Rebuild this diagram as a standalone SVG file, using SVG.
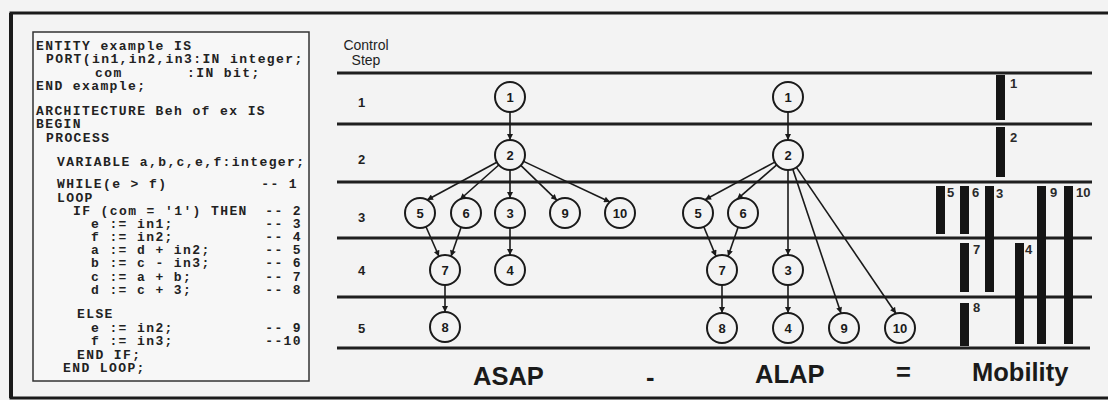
<svg xmlns="http://www.w3.org/2000/svg" width="1108" height="400" viewBox="0 0 1108 400">
  <defs>
    <marker id="arr" viewBox="0 0 10 10" refX="10" refY="5" markerWidth="7" markerHeight="6" markerUnits="userSpaceOnUse" orient="auto">
      <path d="M0,0 L10,5 L0,10 z" fill="#1a1a1a"/>
    </marker>
    <style>
      .code { font-family: "Liberation Mono", "Courier New", monospace; font-weight: bold; font-size: 13px; letter-spacing: 1.4px; fill: #222; }
      .cmt { text-anchor: end; }
      .step { stroke: #1f1f1f; stroke-width: 3; }
      .lbl { font-family: "Liberation Sans", Arial, sans-serif; font-weight: bold; fill: #1f1f1f; }
      .hdr { font-family: "Liberation Sans", Arial, sans-serif; font-size: 14px; fill: #1f1f1f; text-anchor: middle; }
      .node circle { fill: none; stroke: #1a1a1a; stroke-width: 2; }
      .node text { font-family: "Liberation Sans", Arial, sans-serif; font-weight: bold; font-size: 13px; fill: #1a1a1a; text-anchor: middle; }
      .edge { stroke: #1a1a1a; stroke-width: 1.6; fill: none; marker-end: url(#arr); }
      .bar { fill: #151515; }
      .blbl { font-family: "Liberation Sans", Arial, sans-serif; font-weight: bold; font-size: 13px; fill: #2a2a2a; }
      .big { font-family: "Liberation Sans", Arial, sans-serif; font-weight: bold; font-size: 25.5px; fill: #1a1a1a; }
    </style>
  </defs>

  <!-- page background and outer frame -->
  <rect x="0" y="0" width="1108" height="400" fill="#f3f3f3"/>
  <path d="M1108,13 H11 V398 H1108" fill="none" stroke="#1a1a1a" stroke-width="3"/>
  <line x1="11" y1="13" x2="11" y2="398" stroke="#1a1a1a" stroke-width="4"/>

  <!-- VHDL source listing -->
  <g id="code">
    <rect x="33" y="32" width="276" height="349" fill="#f7f7f7" stroke="#333" stroke-width="1.5"/>
    <text class="code" x="36" y="50">ENTITY example IS</text>
    <text class="code" x="46" y="63">PORT(in1,in2,in3:IN integer;</text>
    <text class="code" x="95" y="76.5">com</text>
    <text class="code" x="187" y="76.5">:IN bit;</text>
    <text class="code" x="36" y="89.5">END example;</text>
    <text class="code" x="36" y="115">ARCHITECTURE Beh of ex IS</text>
    <text class="code" x="36" y="128">BEGIN</text>
    <text class="code" x="46" y="142">PROCESS</text>
    <text class="code" x="57" y="166">VARIABLE a,b,c,e,f:integer;</text>
    <text class="code" x="57" y="188">WHILE(e &gt; f)</text>
    <text class="code cmt" x="298" y="188">-- 1</text>
    <text class="code" x="57" y="201.5">LOOP</text>
    <text class="code" x="73" y="215">IF (com = '1') THEN</text>
    <text class="code cmt" x="302" y="215">-- 2</text>
    <text class="code" x="91" y="228">e := in1;</text>
    <text class="code cmt" x="302" y="228">-- 3</text>
    <text class="code" x="91" y="241">f := in2;</text>
    <text class="code cmt" x="302" y="241">-- 4</text>
    <text class="code" x="91" y="254">a := d + in2;</text>
    <text class="code cmt" x="302" y="254">-- 5</text>
    <text class="code" x="91" y="267">b := c - in3;</text>
    <text class="code cmt" x="302" y="267">-- 6</text>
    <text class="code" x="91" y="281">c := a + b;</text>
    <text class="code cmt" x="302" y="281">-- 7</text>
    <text class="code" x="91" y="294">d := c + 3;</text>
    <text class="code cmt" x="302" y="294">-- 8</text>
    <text class="code" x="77" y="318">ELSE</text>
    <text class="code" x="91" y="332">e := in2;</text>
    <text class="code cmt" x="302" y="332">-- 9</text>
    <text class="code" x="91" y="345">f := in3;</text>
    <text class="code cmt" x="302" y="345">--10</text>
    <text class="code" x="77" y="359">END IF;</text>
    <text class="code" x="63" y="372">END LOOP;</text>
  </g>

  <!-- control step grid -->
  <g id="steps">
    <text class="hdr" x="366" y="50">Control</text>
    <text class="hdr" x="366" y="65">Step</text>
    <line class="step" x1="337" y1="73" x2="1092" y2="73"/>
    <line class="step" x1="337" y1="124" x2="1092" y2="124"/>
    <line class="step" x1="337" y1="182" x2="1092" y2="182"/>
    <line class="step" x1="337" y1="238" x2="1092" y2="238"/>
    <line class="step" x1="337" y1="297" x2="1092" y2="297"/>
    <line class="step" x1="337" y1="348" x2="1090" y2="348"/>
    <text class="lbl" x="358" y="107" font-size="13">1</text>
    <text class="lbl" x="358" y="164" font-size="13">2</text>
    <text class="lbl" x="358" y="222" font-size="13">3</text>
    <text class="lbl" x="358" y="275" font-size="13">4</text>
    <text class="lbl" x="358" y="333" font-size="13">5</text>
  </g>

  <!-- dependency edges -->
  <g id="connectors">
    <!-- ASAP schedule -->
    <line class="edge" x1="510" y1="112" x2="510" y2="140"/>
    <line class="edge" x1="496.8" y1="162.2" x2="427" y2="200"/>
    <line class="edge" x1="498.8" y1="165" x2="460" y2="199.5"/>
    <line class="edge" x1="510" y1="170" x2="510" y2="198"/>
    <line class="edge" x1="520.8" y1="165.4" x2="557" y2="200.3"/>
    <line class="edge" x1="523.6" y1="161.4" x2="610" y2="202"/>
    <line class="edge" x1="426" y1="226.7" x2="439" y2="256.5"/>
    <line class="edge" x1="461.1" y1="227.2" x2="451" y2="256.5"/>
    <line class="edge" x1="510" y1="228" x2="510" y2="255"/>
    <line class="edge" x1="445" y1="285" x2="445" y2="312"/>
    <!-- ALAP schedule -->
    <line class="edge" x1="788" y1="112" x2="788" y2="140"/>
    <line class="edge" x1="774.8" y1="162.1" x2="705" y2="199.7"/>
    <line class="edge" x1="776.7" y1="164.8" x2="737" y2="199.3"/>
    <line class="edge" x1="788" y1="170" x2="788" y2="255"/>
    <line class="edge" x1="792.8" y1="169.2" x2="841" y2="313.3"/>
    <line class="edge" x1="796.4" y1="167.4" x2="896" y2="313.5"/>
    <line class="edge" x1="703.8" y1="226.8" x2="716" y2="256.3"/>
    <line class="edge" x1="738.1" y1="227.2" x2="728" y2="256.3"/>
    <line class="edge" x1="722" y1="285" x2="722" y2="313"/>
    <line class="edge" x1="788" y1="285" x2="788" y2="313"/>
  </g>

  <!-- ASAP operation nodes -->
  <g id="asap-1" class="node"><circle cx="510" cy="97" r="15"/><text x="510" y="101.7">1</text></g>
  <g id="asap-2" class="node"><circle cx="510" cy="155" r="15"/><text x="510" y="159.7">2</text></g>
  <g id="asap-5" class="node"><circle cx="420" cy="213" r="15"/><text x="420" y="217.7">5</text></g>
  <g id="asap-6" class="node"><circle cx="466" cy="213" r="15"/><text x="466" y="217.7">6</text></g>
  <g id="asap-3" class="node"><circle cx="510" cy="213" r="15"/><text x="510" y="217.7">3</text></g>
  <g id="asap-9" class="node"><circle cx="565" cy="213" r="15"/><text x="565" y="217.7">9</text></g>
  <g id="asap-10" class="node"><circle cx="620" cy="213" r="15"/><text x="620" y="217.7">10</text></g>
  <g id="asap-7" class="node"><circle cx="445" cy="270" r="15"/><text x="445" y="274.7">7</text></g>
  <g id="asap-4" class="node"><circle cx="510" cy="270" r="15"/><text x="510" y="274.7">4</text></g>
  <g id="asap-8" class="node"><circle cx="445" cy="327" r="15"/><text x="445" y="331.7">8</text></g>

  <!-- ALAP operation nodes -->
  <g id="alap-1" class="node"><circle cx="788" cy="97" r="15"/><text x="788" y="101.7">1</text></g>
  <g id="alap-2" class="node"><circle cx="788" cy="155" r="15"/><text x="788" y="159.7">2</text></g>
  <g id="alap-5" class="node"><circle cx="698" cy="213" r="15"/><text x="698" y="217.7">5</text></g>
  <g id="alap-6" class="node"><circle cx="743" cy="213" r="15"/><text x="743" y="217.7">6</text></g>
  <g id="alap-7" class="node"><circle cx="722" cy="270" r="15"/><text x="722" y="274.7">7</text></g>
  <g id="alap-3" class="node"><circle cx="788" cy="270" r="15"/><text x="788" y="274.7">3</text></g>
  <g id="alap-8" class="node"><circle cx="722" cy="328" r="15"/><text x="722" y="332.7">8</text></g>
  <g id="alap-4" class="node"><circle cx="788" cy="328" r="15"/><text x="788" y="332.7">4</text></g>
  <g id="alap-9" class="node"><circle cx="844" cy="328" r="15"/><text x="844" y="332.7">9</text></g>
  <g id="alap-10" class="node"><circle cx="900" cy="328" r="15"/><text x="900" y="332.7">10</text></g>

  <!-- mobility ranges -->
  <g id="mobility">
    <rect class="bar" x="996" y="75" width="9" height="45"/>
    <text class="blbl" x="1010" y="88">1</text>
    <rect class="bar" x="996" y="127" width="9" height="50"/>
    <text class="blbl" x="1010" y="142">2</text>
    <rect class="bar" x="936" y="186" width="9" height="48"/>
    <text class="blbl" x="947" y="197">5</text>
    <rect class="bar" x="960" y="186" width="9" height="48"/>
    <text class="blbl" x="972" y="197">6</text>
    <rect class="bar" x="985" y="186" width="9" height="106"/>
    <text class="blbl" x="996" y="198">3</text>
    <rect class="bar" x="1037" y="186" width="9" height="158"/>
    <text class="blbl" x="1050" y="197">9</text>
    <rect class="bar" x="1064" y="186" width="9" height="158"/>
    <text class="blbl" x="1076" y="197">10</text>
    <rect class="bar" x="960" y="243" width="9" height="49"/>
    <text class="blbl" x="973" y="254">7</text>
    <rect class="bar" x="1015" y="243" width="9" height="101"/>
    <text class="blbl" x="1025" y="254">4</text>
    <rect class="bar" x="960" y="303" width="9" height="43"/>
    <text class="blbl" x="973" y="312">8</text>
  </g>

  <!-- equation captions -->
  <g id="captions">
    <text class="big" x="473" y="385">ASAP</text>
    <text class="big" x="646" y="386" font-size="34">-</text>
    <text class="big" x="755" y="383">ALAP</text>
    <text class="big" x="896" y="381">=</text>
    <text class="big" x="972" y="381">Mobility</text>
  </g>
</svg>
